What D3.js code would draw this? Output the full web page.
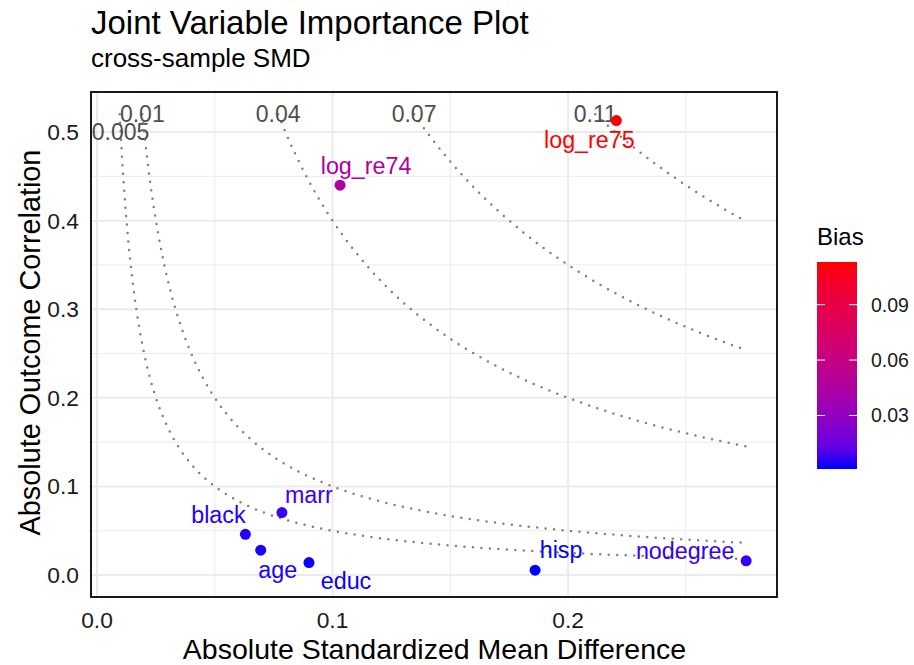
<!DOCTYPE html>
<html><head><meta charset="utf-8">
<script src="https://cdn.jsdelivr.net/npm/d3@7"></script>
<style>body{margin:0;background:#fff} svg{display:block;font-family:"Liberation Sans",Arial,Helvetica,sans-serif}</style>
</head><body><svg id="chart" width="914" height="665"></svg>
<script>
// ---- data ----
const variables = ["log_re75","log_re74","marr","black","age","educ","hisp","nodegree"];
const smd  = [0.2205, 0.1032, 0.0785, 0.0630, 0.0695, 0.0900, 0.1860, 0.2756];
const corr = [0.5130, 0.4400, 0.0705, 0.0460, 0.0280, 0.0140, 0.0055, 0.0160];
const bias = [0.1131, 0.0454, 0.00553, 0.0029, 0.00195, 0.00126, 0.00102, 0.00441];
const contourLevels = [0.005, 0.01, 0.04, 0.07, 0.11];
const contourLabels = ["0.005", "0.01", "0.04", "0.07", "0.11"];
const xTicks = [0, 0.1, 0.2];
const xTickLabels = ["0.0", "0.1", "0.2"];
const xMinor = [0.05, 0.15, 0.25];
const yTicks = [0, 0.1, 0.2, 0.3, 0.4, 0.5];
const yTickLabels = ["0.0", "0.1", "0.2", "0.3", "0.4", "0.5"];
const yMinor = [0.05, 0.15, 0.25, 0.35, 0.45];
const biasTicks = [0.03, 0.06, 0.09];
const biasTickLabels = ["0.03", "0.06", "0.09"];

// ---- layout ----
const svg = d3.select("#chart");
const P = {l: 91, r: 777, t: 92, b: 597};
const x = d3.scaleLinear().domain([-0.00255, 0.2887]).range([P.l, P.r]);
const y = d3.scaleLinear().domain([-0.0248, 0.5452]).range([P.b, P.t]);
const color = d3.scaleLinear().domain(d3.extent(bias)).range(["blue", "red"]).interpolate(d3.interpolateLab);

// grid
const g = svg.append("g");
g.selectAll(".xmin").data(xMinor).join("line")
  .attr("x1", d => x(d)).attr("x2", d => x(d)).attr("y1", P.t).attr("y2", P.b)
  .attr("stroke", "#ebebeb").attr("stroke-width", 1);
g.selectAll(".ymin").data(yMinor).join("line")
  .attr("y1", d => y(d)).attr("y2", d => y(d)).attr("x1", P.l).attr("x2", P.r)
  .attr("stroke", "#ebebeb").attr("stroke-width", 1);
g.selectAll(".xmaj").data(xTicks).join("line")
  .attr("x1", d => x(d)).attr("x2", d => x(d)).attr("y1", P.t).attr("y2", P.b)
  .attr("stroke", "#ebebeb").attr("stroke-width", 2);
g.selectAll(".ymaj").data(yTicks).join("line")
  .attr("y1", d => y(d)).attr("y2", d => y(d)).attr("x1", P.l).attr("x2", P.r)
  .attr("stroke", "#ebebeb").attr("stroke-width", 2);

// contour curves  bias = smd * corr
const xMax = d3.max(smd);
const line = d3.line().x(d => x(d[0])).y(d => y(d[1]));
contourLevels.forEach((lev, i) => {
  const x0 = lev / 0.52;
  const pts = d3.range(0, 201).map(k => {
    const xv = x0 + (xMax - x0) * k / 200;
    return [xv, lev / xv];
  });
  svg.append("path").attr("d", line(pts)).attr("fill", "none")
    .attr("stroke", "#808080").attr("stroke-width", 2.5)
    .attr("stroke-linecap", "round").attr("stroke-dasharray", "0 8.5");
  const ly = i === 0 ? 0.50 : 0.52;
  svg.append("text").attr("x", x(lev / ly)).attr("y", y(ly))
    .attr("text-anchor", "middle").attr("dominant-baseline", "central")
    .attr("font-size", 23).attr("fill", "#4d4d4d").text(contourLabels[i]);
});

// points
const pts = variables.map((v, i) => ({v, x: smd[i], y: corr[i], b: bias[i]}));
svg.selectAll(".pt").data(pts).join("circle")
  .attr("cx", d => x(d.x)).attr("cy", d => y(d.y)).attr("r", 5.5)
  .attr("fill", d => color(d.b));

// point labels (repelled offsets, px)
const nudge = {
  log_re75: [-27, 27.6], log_re74: [26, -11.7], marr: [27, -10], black: [-27, -11],
  age: [17, 28], educ: [37, 26], hisp: [26, -12], nodegree: [-61, -2]
};
svg.selectAll(".lab").data(pts).join("text")
  .attr("x", d => x(d.x) + nudge[d.v][0]).attr("y", d => y(d.y) + nudge[d.v][1])
  .attr("text-anchor", "middle").attr("font-size", 23.3)
  .attr("fill", d => color(d.b)).text(d => d.v);

// panel border
svg.append("rect").attr("x", P.l).attr("y", P.t).attr("width", P.r - P.l).attr("height", P.b - P.t)
  .attr("fill", "none").attr("stroke", "#000").attr("stroke-width", 1.8);

// axes tick labels
svg.selectAll(".xt").data(xTicks).join("text")
  .attr("x", d => x(d)).attr("y", 628).attr("text-anchor", "middle")
  .attr("font-size", 22.8).attr("fill", "#1a1a1a").text((d, i) => xTickLabels[i]);
svg.selectAll(".yt").data(yTicks).join("text")
  .attr("x", 79).attr("y", d => y(d)).attr("text-anchor", "end").attr("dominant-baseline", "central")
  .attr("font-size", 22.8).attr("fill", "#1a1a1a").text((d, i) => yTickLabels[i]);

// axis titles
svg.append("text").attr("x", (P.l + P.r) / 2 + 0.5).attr("y", 659).attr("text-anchor", "middle")
  .attr("font-size", 28.5).attr("fill", "#000").text("Absolute Standardized Mean Difference");
svg.append("text").attr("transform", `translate(40,${(P.t + P.b) / 2 - 2}) rotate(-90)`)
  .attr("text-anchor", "middle").attr("font-size", 28.8).attr("fill", "#000")
  .text("Absolute Outcome Correlation");

// title
svg.append("text").attr("x", 91).attr("y", 34).attr("font-size", 33).attr("fill", "#000")
  .text("Joint Variable Importance Plot");
svg.append("text").attr("x", 91).attr("y", 67).attr("font-size", 26).attr("fill", "#000")
  .text("cross-sample SMD");

// legend
const L = {x: 817, w: 40, t: 262, b: 469};
const lg = svg.append("g");
const defs = svg.append("defs");
const grad = defs.append("linearGradient").attr("id", "bg").attr("x1", 0).attr("y1", 1).attr("x2", 0).attr("y2", 0);
d3.range(0, 11).forEach(k => grad.append("stop").attr("offset", k / 10)
  .attr("stop-color", color(color.domain()[0] + (color.domain()[1] - color.domain()[0]) * k / 10)));
lg.append("rect").attr("x", L.x).attr("y", L.t).attr("width", L.w).attr("height", L.b - L.t).attr("fill", "url(#bg)");
const ly = d3.scaleLinear().domain(color.domain()).range([L.b, L.t]);
biasTicks.forEach((t, i) => {
  lg.append("line").attr("x1", L.x).attr("x2", L.x + 8).attr("y1", ly(t)).attr("y2", ly(t)).attr("stroke", "#fff").attr("stroke-width", 1);
  lg.append("line").attr("x1", L.x + L.w - 8).attr("x2", L.x + L.w).attr("y1", ly(t)).attr("y2", ly(t)).attr("stroke", "#fff").attr("stroke-width", 1);
  lg.append("text").attr("x", 871).attr("y", ly(t)).attr("dominant-baseline", "central")
    .attr("font-size", 19.5).attr("fill", "#1a1a1a").text(biasTickLabels[i]);
});
lg.append("text").attr("x", 817).attr("y", 245).attr("font-size", 24).attr("fill", "#000").text("Bias");
</script></body></html>
